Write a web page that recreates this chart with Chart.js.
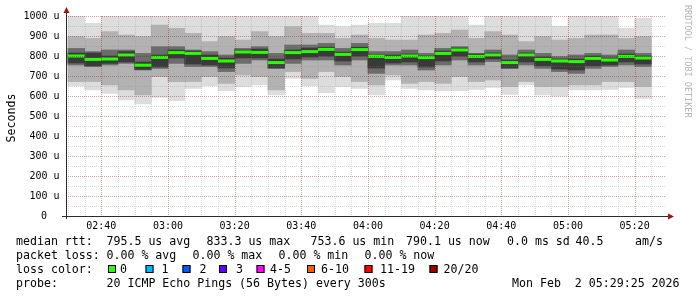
<!DOCTYPE html>
<html>
<head>
<meta charset="utf-8">
<script src="https://cdn.jsdelivr.net/npm/chart.js@4.4.1/dist/chart.umd.min.js"></script>
<style>
html, body { margin: 0; padding: 0; background: #fff; }
#wrap { width: 697px; height: 297px; }
</style>
</head>
<body>
<div id="wrap"><canvas id="smokeChart" width="697" height="297"></canvas></div>
<script>
// 5 minute bins, labelled by the end of the bin
var binEnds = ['02:35', '02:40', '02:45', '02:50', '02:55',
    '03:00', '03:05', '03:10', '03:15', '03:20', '03:25', '03:30', '03:35', '03:40', '03:45', '03:50', '03:55',
    '04:00', '04:05', '04:10', '04:15', '04:20', '04:25', '04:30', '04:35', '04:40', '04:45', '04:50', '04:55',
    '05:00', '05:05', '05:10', '05:15', '05:20', '05:25'];

// values in microseconds
var medianRtt = [800, 783, 785, 805, 754, 793, 817, 813, 788, 775, 820, 818, 767, 817, 822, 833, 808, 832,
    798, 793, 800, 792, 813, 830, 798, 805, 767, 805, 783, 775, 772, 788, 780, 798, 790];
var pingMin = [650, 630, 613, 580, 560, 593, 577, 638, 650, 627, 647, 655, 605, 688, 650, 617, 647, 638,
    605, 680, 638, 630, 627, 627, 633, 643, 608, 655, 605, 600, 630, 630, 633, 643, 588];
var pingMax = [1000, 963, 1000, 1000, 1000, 1000, 1000, 1000, 1000, 1000, 1000, 1000, 1000, 1000, 1000, 955, 947, 955,
    963, 963, 1000, 1000, 1000, 1000, 955, 1000, 1000, 1000, 1000, 950, 1000, 1000, 1000, 938, 988];
var midLow = [672, 672, 655, 630, 605, 697, 672, 672, 697, 663, 705, 697, 630, 722, 688, 722, 697, 672,
    655, 705, 663, 672, 663, 697, 672, 680, 647, 672, 647, 647, 655, 655, 672, 672, 647];
var midHigh = [897, 888, 922, 905, 897, 955, 938, 913, 872, 897, 880, 922, 897, 947, 913, 913, 888, 905,
    888, 880, 880, 905, 913, 930, 888, 922, 905, 872, 897, 880, 888, 905, 905, 888, 897];
var coreLow = [755, 747, 755, 763, 730, 738, 763, 747, 747, 722, 763, 780, 738, 763, 780, 780, 755, 780,
    713, 755, 755, 730, 755, 780, 755, 772, 738, 755, 738, 722, 713, 738, 747, 755, 747];
var coreHigh = [838, 822, 830, 830, 813, 847, 847, 830, 822, 805, 838, 847, 813, 855, 855, 863, 838, 863,
    822, 822, 830, 813, 838, 847, 813, 830, 805, 830, 813, 797, 805, 813, 805, 830, 813];
var innerLow = [765, 750, 763, 770, 733, 745, 790, 760, 755, 740, 790, 790, 740, 785, 795, 800, 775, 800,
    740, 765, 770, 745, 775, 800, 770, 785, 740, 770, 750, 735, 730, 750, 755, 770, 760];
var innerHigh = [815, 815, 800, 822, 770, 805, 830, 825, 805, 790, 830, 835, 785, 830, 840, 845, 820, 845,
    805, 805, 810, 800, 825, 840, 810, 815, 780, 815, 795, 785, 785, 800, 790, 810, 800];

var yTickLabels = ['0', '100 u', '200 u', '300 u', '400 u', '500 u', '600 u', '700 u', '800 u', '900 u', '1000 u'];
var xTickLabels = ['02:40', '03:00', '03:20', '03:40', '04:00', '04:20', '04:40', '05:00', '05:20'];
var rangeStart = '02:29:25';
var rangeEnd = '05:29:25';

var lossColors = ['#26ff00', '#00b8ff', '#0059ff', '#5e00ff', '#ff00ff', '#ff5e00', '#ff0000', '#a00000'];
var lossLabels = ['0', '1', '2', '3', '4-5', '6-10', '11-19', '20/20'];

function toMin(s) {
    var p = s.split(':');
    return +p[0] * 60 + +p[1] + (p[2] ? +p[2] / 60 : 0);
}

var majorTicks = xTickLabels.map(toMin);
var minorTicks = [];
for (var m = toMin('02:30'); m <= toMin('05:25'); m += 5) minorTicks.push(m);

function band(lo, hi) {
    return binEnds.map(function(t, i) {
        return { x: toMin(t) - 2.5, y: [lo[i], hi[i]] };
    });
}

var MONO = '"DejaVu Sans Mono", "Liberation Mono", monospace';

// rrdtool style grid, axes, arrows and legend text
var rrdPlugin = {
    id: 'rrdLook',
    afterDatasetsDraw: function(chart) {
        var ctx = chart.ctx, a = chart.chartArea;
        var xs = chart.scales.x, ys = chart.scales.y;
        ctx.save();
        ctx.lineWidth = 1;
        ctx.setLineDash([1, 1]);
        // minor grid
        ctx.strokeStyle = 'rgba(140,140,140,0.3)';
        ctx.beginPath();
        for (var v = 50; v < 1000; v += 100) {
            var py = Math.round(ys.getPixelForValue(v)) + 0.5;
            ctx.moveTo(a.left, py); ctx.lineTo(a.right, py);
        }
        minorTicks.forEach(function(t) {
            if (majorTicks.indexOf(t) >= 0) return;
            var px = Math.round(xs.getPixelForValue(t)) + 0.5;
            ctx.moveTo(px, a.top); ctx.lineTo(px, a.bottom);
        });
        ctx.stroke();
        // major grid
        ctx.strokeStyle = 'rgba(130,30,30,0.4)';
        ctx.beginPath();
        for (var w = 100; w <= 1000; w += 100) {
            var qy = Math.round(ys.getPixelForValue(w)) + 0.5;
            ctx.moveTo(a.left, qy); ctx.lineTo(a.right, qy);
        }
        majorTicks.forEach(function(t) {
            var px = Math.round(xs.getPixelForValue(t)) + 0.5;
            ctx.moveTo(px, a.top); ctx.lineTo(px, a.bottom);
        });
        ctx.stroke();
        ctx.setLineDash([]);

        // axes
        ctx.strokeStyle = '#2c2c2c';
        ctx.beginPath();
        ctx.moveTo(a.left + 0.5, a.bottom + 3); ctx.lineTo(a.left + 0.5, a.top - 4);
        ctx.moveTo(a.left - 4, a.bottom + 0.5); ctx.lineTo(a.right + 4, a.bottom + 0.5);
        ctx.stroke();
        ctx.fillStyle = '#9a1414';
        ctx.beginPath();
        ctx.moveTo(a.left + 0.5, a.top - 9); ctx.lineTo(a.left + 3.5, a.top - 3); ctx.lineTo(a.left - 2.5, a.top - 3);
        ctx.closePath(); ctx.fill();
        ctx.beginPath();
        ctx.moveTo(a.right + 8, a.bottom + 0.5); ctx.lineTo(a.right + 2, a.bottom - 2.5); ctx.lineTo(a.right + 2, a.bottom + 3.5);
        ctx.closePath(); ctx.fill();

        // tick labels, placed with the chart scales
        ctx.fillStyle = '#000';
        ctx.font = '10px ' + MONO;
        ctx.textAlign = 'right';
        ctx.textBaseline = 'middle';
        yTickLabels.forEach(function(lab, i) {
            var py = ys.getPixelForValue(i * 100);
            var tx = lab.indexOf(' ') < 0 ? 47 : 59.5;
            ctx.fillText(lab, tx, py);
        });
        ctx.textAlign = 'center';
        ctx.textBaseline = 'alphabetic';
        xTickLabels.forEach(function(lab, i) {
            ctx.fillText(lab, xs.getPixelForValue(majorTicks[i]), a.bottom + 12.5);
        });
        ctx.restore();
    },
    afterDraw: function(chart) {
        var ctx = chart.ctx, a = chart.chartArea;
        ctx.save();
        ctx.fillStyle = '#000';
        ctx.textBaseline = 'alphabetic';
        ctx.textAlign = 'left';
        ctx.font = '11.6px ' + MONO;

        // y title
        ctx.save();
        ctx.translate(15, (a.top + a.bottom) / 2 + 2);
        ctx.rotate(-Math.PI / 2);
        ctx.textAlign = 'center';
        ctx.fillText('Seconds', 0, 0);
        ctx.restore();

        var rows = [
            [245, [[16, 'median rtt:'], [106.5, '795.5 us avg'], [206.5, '833.3 us max'], [310.5, '753.6 us min'],
                   [406, '790.1 us now'], [507, '0.0 ms sd'], [575.5, '40.5'], [635, 'am/s']]],
            [259, [[16, 'packet loss:'], [106.5, '0.00 % avg'], [192.5, '0.00 % max'], [278.5, '0.00 % min'],
                   [364.5, '0.00 % now']]],
            [273, [[16, 'loss color:']]],
            [287, [[16, 'probe:'], [106.5, '20 ICMP Echo Pings (56 Bytes) every 300s'],
                   [512, 'Mon Feb  2 05:29:25 2026']]]
        ];
        rows.forEach(function(r) {
            r[1].forEach(function(it) { ctx.fillText(it[1], it[0], r[0]); });
        });

        var boxX = [108, 145.5, 182.5, 219, 256.5, 307, 364.5, 429.5];
        var labX = [120, 161.5, 199.5, 236, 270, 321, 380, 443.5];
        lossColors.forEach(function(c, i) {
            ctx.fillStyle = c;
            ctx.fillRect(boxX[i], 265, 8, 8);
            ctx.strokeStyle = '#000';
            ctx.lineWidth = 1;
            ctx.strokeRect(boxX[i] + 0.5, 265.5, 7, 7);
            ctx.fillStyle = '#000';
            ctx.fillText(lossLabels[i], labX[i], 273);
        });

        // watermark
        ctx.save();
        ctx.translate(684.5, 5);
        ctx.rotate(Math.PI / 2);
        ctx.font = '8.5px ' + MONO;
        ctx.fillStyle = '#b4b4b4';
        ctx.textBaseline = 'alphabetic';
        ctx.fillText('RRDTOOL / TOBI OETIKER', 0, 0);
        ctx.restore();
        ctx.restore();
    }
};

var ctx = document.getElementById('smokeChart').getContext('2d');
var smokeChart = new Chart(ctx, {
    type: 'bar',
    data: {
        datasets: [{
            type: 'line',
            label: 'median rtt',
            data: binEnds.map(function(t, i) { return { x: toMin(t) - 2.5, y: medianRtt[i] }; }),
            showLine: false,
            pointStyle: 'line',
            pointRadius: 8.4,
            pointBorderWidth: 3,
            pointBorderColor: '#26ff00',
            order: 0
        }, {
            label: 'inner',
            data: band(innerLow, innerHigh),
            backgroundColor: '#3a3a3a',
            order: 1
        }, {
            label: 'core',
            data: band(coreLow, coreHigh),
            backgroundColor: '#6c6c6c',
            order: 2
        }, {
            label: 'mid',
            data: band(midLow, midHigh),
            backgroundColor: '#b2b2b2',
            order: 3
        }, {
            label: 'range',
            data: band(pingMin, pingMax),
            backgroundColor: '#dddddd',
            order: 4
        }]
    },
    options: {
        responsive: false,
        animation: false,
        events: [],
        layout: { padding: { left: 0, right: 31, top: 16, bottom: 0 } },
        datasets: {
            bar: { grouped: false, categoryPercentage: 1, barPercentage: 1, borderWidth: 0 }
        },
        plugins: { legend: { display: false }, tooltip: { enabled: false } },
        scales: {
            x: {
                type: 'linear',
                min: toMin(rangeStart),
                max: toMin(rangeEnd),
                offset: false,
                grid: { display: false },
                border: { display: false },
                afterBuildTicks: function(s) {
                    s.ticks = minorTicks.map(function(v) { return { value: v }; });
                },
                afterFit: function(s) { s.height = 81; },
                ticks: { display: false }
            },
            y: {
                min: 0,
                max: 1000,
                grid: { display: false },
                border: { display: false },
                afterFit: function(s) { s.width = 66; },
                ticks: { display: false, stepSize: 100 }
            }
        }
    },
    plugins: [rrdPlugin]
});
</script>
</body>
</html>
